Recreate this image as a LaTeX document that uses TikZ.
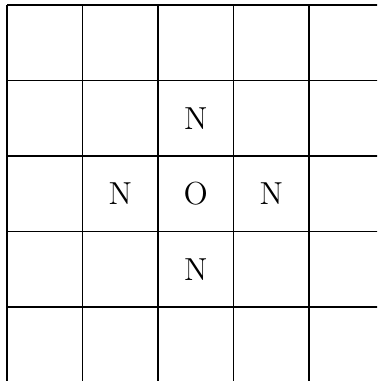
\documentclass[tikz,border=0pt]{standalone}
\usepackage{tikz}
\tikzset{
  % --- grid and atom labels ---------------------------------------------
  gridline/.style={draw=black, line width=0.5pt},
  atom/.style    ={font=\large, inner sep=0pt, text=black},
}

\begin{document}
\begin{tikzpicture}[x=1cm, y=1cm]

  % ============================= frame =============================
  \useasboundingbox (-0.093,0.020) rectangle (4.901,5.066);
  \clip (-0.093,0.020) rectangle (4.901,5.066);

  % ============================= lattice =============================
  \draw[gridline] (0,0) grid (5,5);

  % ============================= atoms =============================
  \node[atom] (oc) at (2.5,2.5) {O};
  \node[atom] (nt) at (2.5,3.5) {N};
  \node[atom] (nb) at (2.5,1.5) {N};
  \node[atom] (nl) at (1.5,2.5) {N};
  \node[atom] (nr) at (3.5,2.5) {N};

\end{tikzpicture}
\end{document}
